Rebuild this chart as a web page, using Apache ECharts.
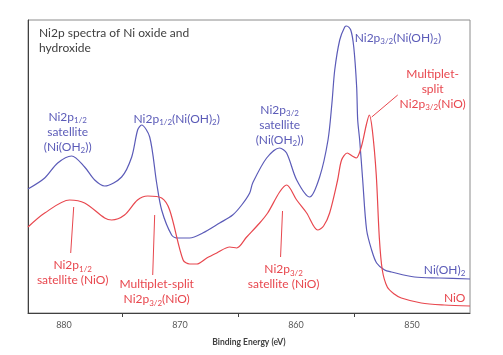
<!DOCTYPE html>
<html>
<head>
<meta charset="utf-8">
<script src="https://cdn.jsdelivr.net/npm/echarts@6/dist/echarts.min.js"></script>
<style>html,body{margin:0;padding:0;background:#fff}#c{width:503px;height:355px}</style>
</head>
<body>
<div id="c"></div>
<script>
// ---- data ----
const titleText = 'Ni2p spectra of Ni oxide and\nhydroxide';
const axisName = 'Binding Energy (eV)';
const tickLabels = [880, 870, 860, 850];
const minorTicks = [875, 865, 855];

// Ni(OH)2 spectrum: binding energy (eV) and intensity (a.u.)
const niohE = [883.1, 881.66, 880.54, 879.34, 878.22, 877.35, 876.49, 875.03, 874.16, 873.65, 873.31, 872.61, 872.01, 871.58, 870.72, 870.20, 869.16, 868.04, 866.58, 865.46, 864.68, 863.99, 863.73, 862.53, 861.41, 860.81, 859.94, 858.82, 857.96, 857.24, 856.90, 856.66, 856.23, 855.80, 855.63, 855.28, 855.02, 854.77, 854.68, 854.51, 854.25, 853.91, 853.48, 853.05, 852.36, 851.77, 849.78, 847.63, 845.0];
const niohI = [124, 135, 150, 157, 146, 133, 127, 136, 156, 183, 188, 176, 130, 103, 78, 75, 75, 80, 90, 98, 108, 120, 130, 155, 165, 160, 133, 116, 136, 173, 210, 243, 273, 286, 287, 283, 266, 226, 193, 173, 133, 83, 63, 50, 43, 41, 36, 35, 34];

// NiO spectrum
const nioE = [883.1, 881.66, 879.51, 878.22, 876.49, 875.89, 874.78, 873.66, 872.78, 871.58, 870.89, 869.73, 869.16, 868.55, 867.69, 866.83, 865.71, 865.11, 864.25, 863.13, 862.44, 861.41, 860.81, 859.94, 859.08, 858.13, 857.62, 857.10, 856.41, 856.07, 855.58, 855.15, 854.80, 854.37, 853.94, 853.68, 853.42, 853.08, 852.82, 852.56, 852.13, 851.53, 850.92, 849.20, 847.22, 845.0];
const nioI = [86, 100, 113, 110, 95, 93, 98, 113, 117, 115, 103, 53, 49, 49, 55, 60, 66, 65, 76, 90, 100, 121, 128, 113, 100, 83, 87, 100, 133, 153, 160, 157, 155, 166, 188, 198, 183, 138, 76, 43, 26, 19, 15, 10, 8, 7];

// annotation texts (rich-text, {s|..} = subscript)
const blueNotes = [
  'Ni2p{s|1/2}\nsatellite\n(Ni(OH{s|2}))',
  'Ni2p{s|1/2}(Ni(OH){s|2})',
  'Ni2p{s|3/2}\nsatellite\n(Ni(OH{s|2}))',
  'Ni2p{s|3/2}(Ni(OH){s|2})',
  'Ni(OH){s|2}'
];
const redNotes = [
  'Multiplet-\nsplit\nNi2p{s|3/2}(NiO)',
  'Ni2p{s|1/2}\nsatellite (NiO)',
  'Multiplet-split\nNi2p{s|3/2}(NiO)',
  'Ni2p{s|3/2}\nsatellite (NiO)',
  'NiO'
];
// ---- layout of annotations (data coords: eV, intensity) ----
const blueNotePos = [[879.68, 181, 'center'], [870.28, 194, 'center'], [861.41, 188, 'center'], [854.94, 275, 'left'], [845.4, 43, 'right']];
const redNotePos = [[848.22, 224, 'center'], [879.25, 40, 'center'], [872.01, 21, 'center'], [861.07, 36, 'center'], [845.4, 15, 'right']];
const redLeaders = [
  [[851.23, 218], [853.47, 196]],
  [[879.16, 106], [879.42, 60]],
  [[872.18, 98], [872.35, 38]],
  [[861.16, 102], [861.33, 56]]
];

const BLUE = '#5b5bb8';
const RED = '#e8474e';
const FONT = 'Lato';

function zip(a, b) { return a.map((v, i) => [v, b[i]]); }
function rich(color) {
  return {
    s: { fontSize: 8, color: color, fontFamily: FONT, verticalAlign: 'bottom', lineHeight: 11 }
  };
}
function notes(texts, pos) {
  return texts.map((t, i) => ({
    coord: [pos[i][0], pos[i][1]],
    label: { formatter: t, align: pos[i][2] }
  }));
}
function markPt(texts, pos, color) {
  return {
    symbol: 'circle', symbolSize: 1,
    itemStyle: { color: 'rgba(0,0,0,0)' },
    label: {
      show: true, position: 'inside', color: color, fontSize: 12, fontFamily: FONT,
      lineHeight: 15, verticalAlign: 'middle', rich: rich(color)
    },
    data: notes(texts, pos)
  };
}

const chart = echarts.init(document.getElementById('c'), null, { renderer: 'canvas' });
chart.setOption({
  animation: false,
  backgroundColor: '#fff',
  title: {
    text: titleText, left: 34, top: 21,
    textStyle: { fontSize: 12, fontWeight: 'normal', color: '#404040', fontFamily: FONT, lineHeight: 15 }
  },
  grid: { left: 28, right: 33, top: 20, bottom: 42, show: true, borderColor: '#8c8c8c', borderWidth: 1 },
  xAxis: {
    type: 'value', inverse: true, min: 845, max: 883.1,
    axisLine: { show: true, lineStyle: { color: '#404040', width: 1 } },
    axisTick: { show: true, customValues: minorTicks, length: 4, lineStyle: { color: '#404040' } },
    axisLabel: { customValues: tickLabels, fontSize: 9, color: '#595959', margin: 8, fontFamily: FONT },
    splitLine: { show: false },
    name: axisName, nameLocation: 'middle', nameGap: 25,
    nameTextStyle: { fontSize: 8.5, fontWeight: 'bold', color: '#404040', fontFamily: FONT }
  },
  yAxis: {
    type: 'value', min: 0, max: 293,
    axisLine: { show: true, lineStyle: { color: '#404040', width: 1 } },
    axisTick: { show: false }, axisLabel: { show: false }, splitLine: { show: false }
  },
  series: [
    {
      name: 'Ni(OH)2', type: 'line', data: zip(niohE, niohI), showSymbol: false, smooth: 0.3,
      lineStyle: { color: BLUE, width: 1.2 }, itemStyle: { color: BLUE },
      markPoint: markPt(blueNotes, blueNotePos, BLUE)
    },
    {
      name: 'NiO', type: 'line', data: zip(nioE, nioI), showSymbol: false, smooth: 0.3,
      lineStyle: { color: RED, width: 1.2 }, itemStyle: { color: RED },
      markPoint: markPt(redNotes, redNotePos, RED),
      markLine: {
        symbol: 'none', silent: true, label: { show: false },
        lineStyle: { color: RED, width: 1, type: 'solid' },
        data: redLeaders.map(l => [{ coord: l[0] }, { coord: l[1] }])
      }
    }
  ]
});
</script>
</body>
</html>
